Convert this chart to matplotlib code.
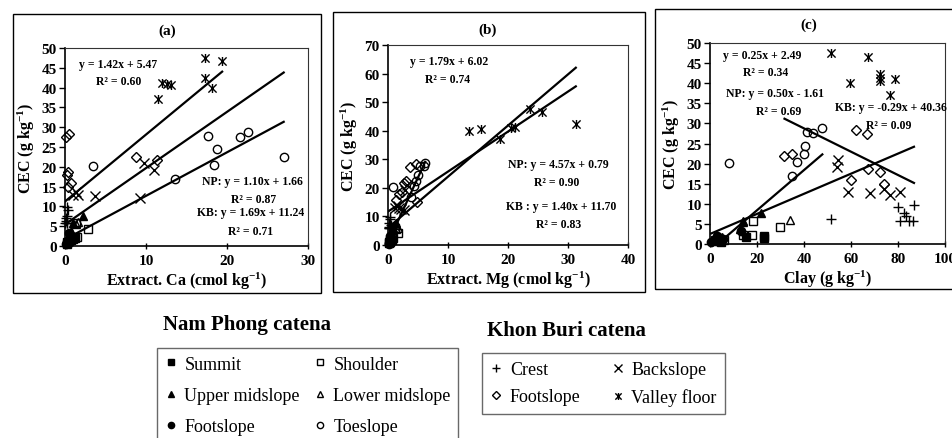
import matplotlib
matplotlib.use("Agg")
import matplotlib.pyplot as plt
from matplotlib.path import Path
from matplotlib.lines import Line2D
from matplotlib.patches import Rectangle

plt.rcParams['font.family'] = ['Liberation Serif', 'DejaVu Serif']
plt.rcParams['mathtext.fontset'] = 'custom'
plt.rcParams['mathtext.rm'] = 'Liberation Serif:bold'
plt.rcParams['mathtext.bf'] = 'Liberation Serif:bold'
plt.rcParams['mathtext.it'] = 'Liberation Serif:bold'

# ---------------- Nam Phong catena (Ca, Mg in cmol/kg, clay in g/kg, CEC) ----------------
summit_ca   = [0.3, 0.6, 1.0, 1.2, 0.8, 0.2]
summit_mg   = [0.2, 0.3, 0.5, 0.6, 0.4, 0.1]
summit_clay = [2.0, 3.5, 15.5, 22.8, 22.8, 4.5]
summit_cec  = [1.0, 1.5, 1.7, 1.9, 1.4, 0.6]

shoulder_ca   = [2.8, 1.4, 1.5, 1.1, 0.4]
shoulder_mg   = [1.6, 1.2, 0.9, 0.7, 0.3]
shoulder_clay = [29.7, 18.3, 14.1, 18.0, 6.0]
shoulder_cec  = [4.2, 5.8, 2.3, 2.3, 1.0]

upper_ca   = [2.2, 1.0, 0.8, 0.3]
upper_mg   = [1.4, 0.9, 0.7, 0.2]
upper_clay = [21.9, 14.1, 12.6, 5.0]
upper_cec  = [7.6, 5.8, 3.7, 1.8]

lower_ca   = [1.6, 1.4, 0.5]
lower_mg   = [1.6, 1.3, 0.4]
lower_clay = [34.2, 14.0, 4.0]
lower_cec  = [6.0, 5.5, 1.2]

npfoot_ca   = [0.5, 0.2, 0.4, 0.7, 0.1]
npfoot_mg   = [0.3, 0.2, 0.3, 0.5, 0.1]
npfoot_clay = [13.3, 2.5, 5.5, 3.0, 0.5]
npfoot_cec  = [3.3, 0.8, 1.2, 2.0, 0.5]

toe_ca   = [3.4, 13.6, 17.6, 18.4, 18.8, 21.6, 22.6, 27.0]
toe_mg   = [0.9, 3.8, 6.0, 4.4, 5.0, 5.4, 6.2, 4.6]
toe_clay = [8.1, 35.1, 41.4, 37.0, 40.3, 43.8, 47.8, 40.0]
toe_cec  = [20.2, 16.8, 27.8, 20.5, 24.5, 27.5, 28.8, 22.5]

# ---------------- Khon Buri catena ----------------
crest_ca   = [0.3, 0.4, 0.2, 0.1, 0.2, 0.0, 0.3, 0.1]
crest_mg   = [0.3, 0.4, 0.2, 0.5, 0.3, 0.1, 0.2, 0.1]
crest_clay = [86.8, 80.0, 82.5, 83.5, 81.0, 84.5, 86.5, 51.7]
crest_cec  = [9.8, 9.1, 7.6, 7.0, 5.8, 5.8, 5.8, 6.2]

back_ca   = [9.8, 11.0, 3.7, 9.2, 1.3, 1.0, 1.6]
back_mg   = [3.2, 2.9, 2.2, 2.6, 1.6, 1.2, 1.9]
back_clay = [54.5, 53.9, 68.0, 76.5, 74.0, 58.8, 80.7]
back_cec  = [21.0, 19.1, 12.6, 12.2, 13.6, 13.0, 13.0]

kbfoot_ca   = [0.17, 0.5, 0.2, 0.4, 0.4, 0.7, 8.8, 11.3]
kbfoot_mg   = [3.6, 4.6, 1.8, 2.3, 4.8, 1.4, 3.0, 2.6]
kbfoot_clay = [66.8, 62.3, 72.2, 67.3, 73.9, 60.2, 35.0, 31.7]
kbfoot_cec  = [27.4, 28.3, 17.9, 18.6, 15.0, 15.8, 22.4, 21.8]

valley_ca   = [17.25, 19.4, 17.3, 12.0, 12.6, 13.1, 18.2, 11.5]
valley_mg   = [23.7, 25.6, 31.3, 21.2, 20.5, 15.5, 13.5, 18.6]
valley_clay = [51.7, 67.3, 72.2, 72.2, 78.6, 72.2, 59.4, 76.5]
valley_cec  = [47.5, 46.6, 42.3, 41.2, 41.0, 40.6, 40.0, 37.0]

# Linear fits (slope, intercept, R2) for all / Nam Phong / Khon Buri
fit_ca   = {'all': (1.42, 5.47, 0.60), 'NP': (1.10, 1.66, 0.87), 'KB': (1.69, 11.24, 0.71)}
fit_mg   = {'all': (1.79, 6.02, 0.74), 'NP': (4.57, 0.79, 0.90), 'KB': (1.40, 11.70, 0.83)}
fit_clay = {'all': (0.25, 2.49, 0.34), 'NP': (0.50, -1.61, 0.69), 'KB': (-0.29, 40.36, 0.09)}

# Valley-floor star: an X with a vertical stroke
star = Path([(-1, -1), (1, 1), (-1, 1), (1, -1), (0, -1.1), (0, 1.1)],
            [Path.MOVETO, Path.LINETO] * 3)

np_series = [
    ('Summit', 's', 'black', dict(ca=summit_ca, mg=summit_mg, clay=summit_clay, cec=summit_cec)),
    ('Shoulder', 's', 'none', dict(ca=shoulder_ca, mg=shoulder_mg, clay=shoulder_clay, cec=shoulder_cec)),
    ('Upper midslope', '^', 'black', dict(ca=upper_ca, mg=upper_mg, clay=upper_clay, cec=upper_cec)),
    ('Lower midslope', '^', 'none', dict(ca=lower_ca, mg=lower_mg, clay=lower_clay, cec=lower_cec)),
    ('Footslope', 'o', 'black', dict(ca=npfoot_ca, mg=npfoot_mg, clay=npfoot_clay, cec=npfoot_cec)),
    ('Toeslope', 'o', 'none', dict(ca=toe_ca, mg=toe_mg, clay=toe_clay, cec=toe_cec)),
]
kb_series = [
    ('Crest', '+', 'none', dict(ca=crest_ca, mg=crest_mg, clay=crest_clay, cec=crest_cec)),
    ('Backslope', 'x', 'none', dict(ca=back_ca, mg=back_mg, clay=back_clay, cec=back_cec)),
    ('Footslope', 'D', 'none', dict(ca=kbfoot_ca, mg=kbfoot_mg, clay=kbfoot_clay, cec=kbfoot_cec)),
    ('Valley floor', star, 'none', dict(ca=valley_ca, mg=valley_mg, clay=valley_clay, cec=valley_cec)),
]

marker_size = {'s': 5.5, '^': 6, 'o': 6, '+': 7, 'x': 7, 'D': 5}

W, H = 953, 439
fig = plt.figure(figsize=(W / 100, H / 100), dpi=100)


def fig_rect(x0, y0, x1, y1):
    """Pixel box (top-left origin) -> figure fraction [left, bottom, width, height]."""
    return [x0 / W, 1 - y1 / H, (x1 - x0) / W, (y1 - y0) / H]


def draw_panel(box, key, fits, xlim, xstep, ylim, ystep, xlabel, tag, tag_xy, texts):
    ax = fig.add_axes(fig_rect(*box))
    for name, mk, fc, d in np_series + kb_series:
        ms = 6.5 if mk is star else marker_size[mk]
        ax.plot(d[key], d['cec'], ls='none', marker=mk, ms=ms, mfc=fc,
                mec='black', mew=1.0, color='black', clip_on=False, zorder=3)
    groups = {
        'NP': [v for s in np_series for v in zip(s[3][key], s[3]['cec'])],
        'KB': [v for s in kb_series for v in zip(s[3][key], s[3]['cec'])],
    }
    groups['all'] = groups['NP'] + groups['KB']
    for g, (m, b, _) in fits.items():
        xs = [p[0] for p in groups[g]]
        x0, x1 = min(xs), max(xs)
        ax.plot([x0, x1], [m * x0 + b, m * x1 + b], color='black', lw=1.6, zorder=4)
    ax.set_xlim(*xlim)
    ax.set_ylim(*ylim)
    ax.set_xticks(range(xlim[0], xlim[1] + 1, xstep))
    ax.set_yticks(range(ylim[0], ylim[1] + 1, ystep))
    for lab in ax.get_xticklabels() + ax.get_yticklabels():
        lab.set_fontweight('bold')
    ax.tick_params(axis='y', direction='out', length=4, width=1, labelsize=11, pad=2)
    ax.tick_params(axis='x', direction='inout', length=5, width=1, labelsize=11, pad=3)
    for side in ('left', 'bottom'):
        ax.spines[side].set_linewidth(1.2)
    for side in ('top', 'right'):
        ax.spines[side].set_linewidth(0.8)
        ax.spines[side].set_color('#333333')
    ax.set_xlabel(xlabel, fontsize=11.5, fontweight='bold', labelpad=2)
    ax.set_ylabel('CEC (g kg$^{-1}$)', fontsize=11.5, fontweight='bold', labelpad=3)
    ax.set_facecolor('white')
    fig.text(tag_xy[0] / W, 1 - tag_xy[1] / H, tag, ha='center', va='center',
             fontsize=11, fontweight='bold')
    for (fx, fy, s) in texts:
        ax.text(fx, fy, s, transform=ax.transAxes, ha='center', va='center',
                fontsize=8.5, fontweight='bold', zorder=5)
    return ax


def eq(prefix, fit):
    m, b, r2 = fit
    sign = '-' if b < 0 else '+'
    return f"{prefix}y = {m:.2f}x {sign} {abs(b):.2f}", f"R\u00b2 = {r2:.2f}"


# outer panel frames
for x0, y0, x1, y1 in [(13, 15, 321, 294), (333, 13, 645, 293), (655, 10, 975, 290)]:
    fig.add_artist(Rectangle((x0 / W, 1 - y1 / H), (x1 - x0) / W, (y1 - y0) / H,
                             transform=fig.transFigure, fill=False, lw=1.0,
                             edgecolor='black'))

a_all, a_r = eq('', fit_ca['all'])
a_np, a_npr = eq('NP: ', fit_ca['NP'])
a_kb, a_kbr = eq('KB: ', fit_ca['KB'])
draw_panel((65, 49, 308, 247), 'ca', fit_ca, (0, 30), 10, (0, 50), 5,
           'Extract. Ca (cmol kg$^{-1}$)', '(a)', (167, 31),
           [(0.22, 0.919, a_all), (0.22, 0.833, a_r),
            (0.772, 0.328, a_np), (0.778, 0.237, a_npr),
            (0.763, 0.172, a_kb), (0.765, 0.076, a_kbr)])

b_all, b_r = eq('', fit_mg['all'])
b_np, b_npr = eq('NP: ', fit_mg['NP'])
b_kb, b_kbr = eq('KB : ', fit_mg['KB'])
draw_panel((388, 46, 628, 246), 'mg', fit_mg, (0, 40), 10, (0, 70), 10,
           'Extract. Mg (cmol kg$^{-1}$)', '(b)', (488, 30),
           [(0.256, 0.918, b_all), (0.248, 0.83, b_r),
            (0.708, 0.405, b_np), (0.703, 0.317, b_npr),
            (0.722, 0.197, b_kb), (0.71, 0.105, b_kbr)])

c_all, c_r = eq('', fit_clay['all'])
c_np, c_npr = eq('NP: ', fit_clay['NP'])
c_kb, c_kbr = eq('KB: ', fit_clay['KB'])
draw_panel((710, 44, 945, 245), 'clay', fit_clay, (0, 100), 20, (0, 50), 5,
           'Clay (g kg$^{-1}$)', '(c)', (809, 25),
           [(0.22, 0.942, c_all), (0.237, 0.854, c_r),
            (0.278, 0.751, c_np), (0.291, 0.663, c_npr),
            (0.772, 0.68, c_kb), (0.76, 0.592, c_kbr)])

# ---------------- legends ----------------
def handle(mk, fc):
    ms = 5 if mk is star else {'s': 4.5, '^': 5, 'o': 4.5, '+': 6, 'x': 5.5, 'D': 4}[mk]
    return Line2D([], [], ls='none', marker=mk, ms=ms, mfc=fc, mec='black', mew=1.0,
                  color='black')

np_order = [0, 2, 4, 1, 3, 5]
leg1 = fig.legend([handle(np_series[i][1], np_series[i][2]) for i in np_order],
                  [np_series[i][0] for i in np_order],
                  ncol=2, loc='upper left', bbox_to_anchor=(157 / W, 1 - 349 / H),
                  frameon=True, fancybox=False, edgecolor='#444444', fontsize=13,
                  handlelength=0.7, handletextpad=0.4, columnspacing=0.75,
                  labelspacing=0.8, borderpad=0.42, borderaxespad=0)
leg1.get_frame().set_linewidth(1.0)

kb_order = [0, 2, 1, 3]
leg2 = fig.legend([handle(kb_series[i][1], kb_series[i][2]) for i in kb_order],
                  [kb_series[i][0] for i in kb_order],
                  ncol=2, loc='upper left', bbox_to_anchor=(482 / W, 1 - 354 / H),
                  frameon=True, fancybox=False, edgecolor='#444444', fontsize=13,
                  handlelength=0.7, handletextpad=0.4, columnspacing=1.7,
                  labelspacing=0.55, borderpad=0.45, borderaxespad=0)
leg2.get_frame().set_linewidth(1.0)

fig.text(163 / W, 1 - 325 / H, 'Nam Phong catena', ha='left', va='center',
         fontsize=15, fontweight='bold')
fig.text(487 / W, 1 - 331 / H, 'Khon Buri catena', ha='left', va='center',
         fontsize=15, fontweight='bold')

fig.savefig('out.png', dpi=100, facecolor='white')
